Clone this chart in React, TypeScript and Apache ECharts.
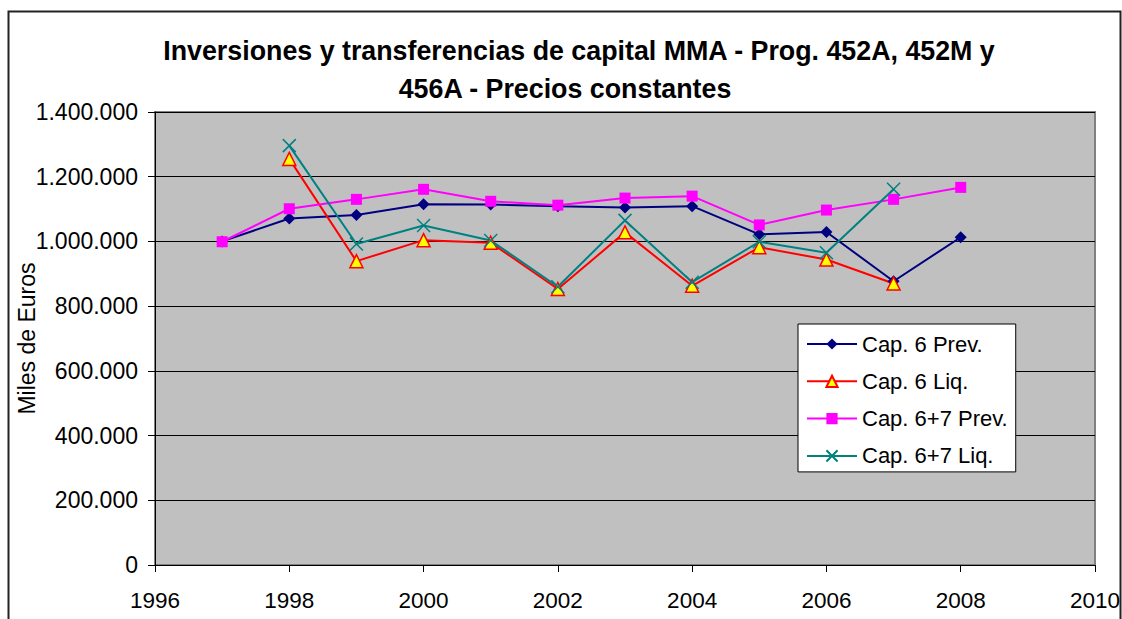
import React, { useEffect, useRef } from "react";
import * as echarts from "echarts";

const years = [1997, 1998, 1999, 2000, 2001, 2002, 2003, 2004, 2005, 2006, 2007, 2008];
const cap6Prev = [1000000, 1071000, 1082000, 1115000, 1114000, 1109000, 1105000, 1109000, 1022000, 1029000, 877000, 1013000];
const cap6Liq = [null, 1255000, 939000, 1004000, 996000, 853000, 1028000, 863000, 982000, 944000, 870000, null];
const cap67Prev = [999000, 1101000, 1130000, 1161000, 1124000, 1112000, 1134000, 1140000, 1051000, 1097000, 1130000, 1167000];
const cap67Liq = [null, 1296000, 992000, 1049000, 1003000, 860000, 1065000, 874000, 999000, 965000, 1161000, null];

const seriesNames = ["Cap. 6 Prev.", "Cap. 6 Liq.", "Cap. 6+7 Prev.", "Cap. 6+7 Liq."];
const titleLine1 = "Inversiones y transferencias de capital MMA - Prog. 452A, 452M y";
const titleLine2 = "456A - Precios constantes";
const yAxisName = "Miles de Euros";

const FONT = 'Arial, "Liberation Sans", sans-serif';

const toPairs = (vals: (number | null)[]) =>
  years.map((y, i) => [y, vals[i]]).filter((p) => p[1] !== null);

const fmtThousands = (v: number) =>
  String(v).replace(/\B(?=(\d{3})+(?!\d))/g, ".");

export default function App() {
  const ref = useRef<HTMLDivElement>(null);
  useEffect(() => {
    if (!ref.current) return;
    const chart = echarts.init(ref.current, null, { renderer: "svg" });
    chart.setOption({
      animation: false,
      backgroundColor: "#ffffff",
      graphic: [
        {
          type: "rect",
          shape: { x: 8.5, y: 11.5, width: 1112, height: 700 },
          style: { fill: "none", stroke: "#222", lineWidth: 2 },
          silent: true,
        },
        {
          type: "text",
          x: 579,
          y: 51,
          style: {
            text: titleLine1,
            font: `bold 26.8px ${FONT}`,
            textAlign: "center",
            textVerticalAlign: "middle",
            fill: "#000",
          },
        },
        {
          type: "text",
          x: 565,
          y: 89,
          style: {
            text: titleLine2,
            font: `bold 26.8px ${FONT}`,
            textAlign: "center",
            textVerticalAlign: "middle",
            fill: "#000",
          },
        },
      ],
      grid: {
        left: 155,
        right: 27,
        top: 112,
        bottom: 54,
        containLabel: false,
        outerBoundsMode: "none",
        show: true,
        backgroundColor: "#C0C0C0",
        borderColor: "#808080",
        borderWidth: 2,
      },
      legend: {
        orient: "vertical",
        left: 798,
        top: 324,
        itemWidth: 50,
        itemHeight: 14,
        itemGap: 15.3,
        padding: [9, 8, 5, 8],
        backgroundColor: "#ffffff",
        borderColor: "#000",
        borderWidth: 1,
        textStyle: { fontSize: 22, fontFamily: FONT, color: "#000", lineHeight: 22 },
        data: seriesNames,
      },
      xAxis: {
        type: "value",
        min: 1996,
        max: 2010,
        interval: 2,
        splitLine: { show: false },
        axisLine: { show: true, lineStyle: { color: "#000", width: 1 } },
        axisTick: { show: true, inside: false, length: 7, lineStyle: { color: "#000" } },
        axisLabel: {
          formatter: (v: number) => String(v),
          fontSize: 22.5,
          fontFamily: FONT,
          color: "#000",
          margin: 24,
        },
      },
      yAxis: {
        type: "value",
        min: 0,
        max: 1400000,
        interval: 200000,
        name: yAxisName,
        nameLocation: "middle",
        nameGap: 117,
        nameMoveOverlap: false,
        nameTextStyle: { fontSize: 23, fontFamily: FONT, color: "#000" },
        splitLine: { show: true, lineStyle: { color: "#000", width: 1 } },
        axisLine: { show: true, lineStyle: { color: "#000", width: 1 } },
        axisTick: { show: true, inside: false, length: 7, lineStyle: { color: "#000" } },
        axisLabel: {
          formatter: (v: number) => fmtThousands(v),
          fontSize: 23,
          fontFamily: FONT,
          color: "#000",
          margin: 17,
        },
      },
      series: [
        {
          name: seriesNames[0],
          type: "line",
          data: toPairs(cap6Prev),
          symbol: "diamond",
          symbolSize: 12,
          color: "#000080",
          lineStyle: { color: "#000080", width: 2 },
          itemStyle: { color: "#000080" },
        },
        {
          name: seriesNames[1],
          type: "line",
          data: toPairs(cap6Liq),
          symbol: "triangle",
          symbolSize: 13,
          color: "#FF0000",
          lineStyle: { color: "#FF0000", width: 2 },
          itemStyle: { color: "#FFFF00", borderColor: "#FF0000", borderWidth: 1.5 },
        },
        {
          name: seriesNames[2],
          type: "line",
          data: toPairs(cap67Prev),
          symbol: "rect",
          symbolSize: 11,
          color: "#FF00FF",
          lineStyle: { color: "#FF00FF", width: 2 },
          itemStyle: { color: "#FF00FF" },
        },
        {
          name: seriesNames[3],
          type: "line",
          data: toPairs(cap67Liq),
          symbol: "path://M0,0L10,10M10,0L0,10",
          symbolSize: 13,
          color: "#008080",
          lineStyle: { color: "#008080", width: 2 },
          itemStyle: { color: "#008080", borderColor: "#008080", borderWidth: 1.5 },
        },
      ],
    });
    return () => chart.dispose();
  }, []);
  return (
    <div
      ref={ref}
      style={{ position: "fixed", left: 0, top: 0, width: 1122, height: 619 }}
    />
  );
}
